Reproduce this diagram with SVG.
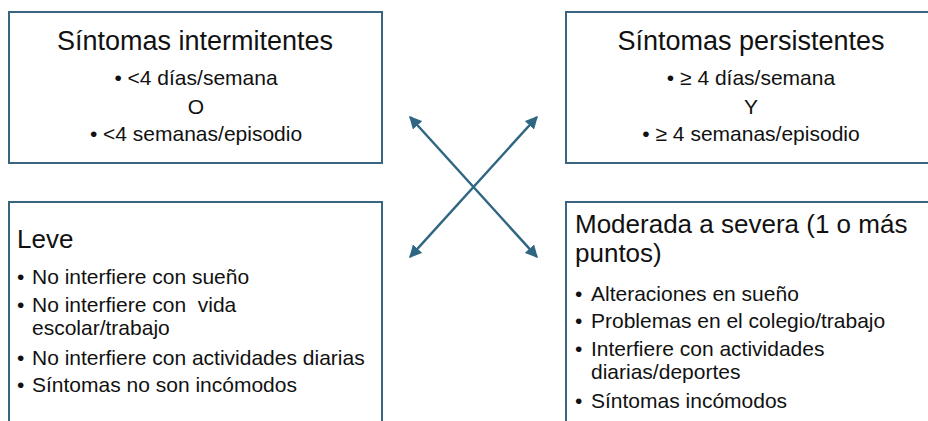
<svg xmlns="http://www.w3.org/2000/svg" width="928" height="421" viewBox="0 0 928 421">
<defs>
<marker id="ah" viewBox="0 0 10 10" refX="9" refY="5" markerWidth="5" markerHeight="5" orient="auto-start-reverse" markerUnits="strokeWidth">
<path d="M0,0 L10,5 L0,10 z" fill="#2F6682"/>
</marker>
<style>
.box{fill:#ffffff;stroke:#3A6580;stroke-width:2}
.t{font-family:"Liberation Sans",Arial,sans-serif;fill:#111111}
.h{font-size:26px}
.ht{font-size:27px}
.b{font-size:21px}
.c{text-anchor:middle}
.pre{white-space:pre}
.arr{stroke:#2F6682;stroke-width:2.5;fill:none;marker-start:url(#ah);marker-end:url(#ah)}
</style>
</defs>
<rect width="928" height="421" fill="#ffffff"/>
<g id="intermitentes">
<rect class="box" x="9" y="12" width="373" height="151"/>
<text class="t ht c" x="195" y="50">Síntomas intermitentes</text>
<text class="t b c" x="196" y="85">• &lt;4 días/semana</text>
<text class="t b c" x="196" y="114">O</text>
<text class="t b c" x="196" y="141">• &lt;4 semanas/episodio</text>
</g>
<g id="persistentes">
<rect class="box" x="566" y="12" width="372" height="151"/>
<text class="t ht c" x="751" y="50">Síntomas persistentes</text>
<text class="t b c" x="751" y="85">• ≥ 4 días/semana</text>
<text class="t b c" x="751" y="114">Y</text>
<text class="t b c" x="751" y="141">• ≥ 4 semanas/episodio</text>
</g>
<g id="leve">
<rect class="box" x="9" y="202" width="373" height="235"/>
<text class="t h" x="17" y="248">Leve</text>
<text class="t b" x="17" y="284">•</text><text class="t b" x="32" y="284">No interfiere con sueño</text>
<text class="t b" x="17" y="312">•</text><text class="t b pre" x="32" y="312" xml:space="preserve">No interfiere con  vida</text>
<text class="t b" x="32" y="335">escolar/trabajo</text>
<text class="t b" x="17" y="365">•</text><text class="t b" x="32" y="365">No interfiere con actividades diarias</text>
<text class="t b" x="17" y="392">•</text><text class="t b" x="32" y="392">Síntomas no son incómodos</text>
</g>
<g id="moderada">
<rect class="box" x="566" y="202" width="372" height="235"/>
<text class="t h" x="575" y="233">Moderada a severa (1 o más</text>
<text class="t h" x="575" y="262">puntos)</text>
<text class="t b" x="575" y="301">•</text><text class="t b" x="591" y="301">Alteraciones en sueño</text>
<text class="t b" x="575" y="328">•</text><text class="t b" x="591" y="328">Problemas en el colegio/trabajo</text>
<text class="t b" x="575" y="356">•</text><text class="t b" x="591" y="356">Interfiere con actividades</text>
<text class="t b" x="591" y="379">diarias/deportes</text>
<text class="t b" x="575" y="408">•</text><text class="t b" x="591" y="408">Síntomas incómodos</text>
</g>
<g id="connectors">
<line class="arr" x1="410" y1="117" x2="537" y2="257"/>
<line class="arr" x1="537" y1="117" x2="410" y2="257"/>
</g>
</svg>
